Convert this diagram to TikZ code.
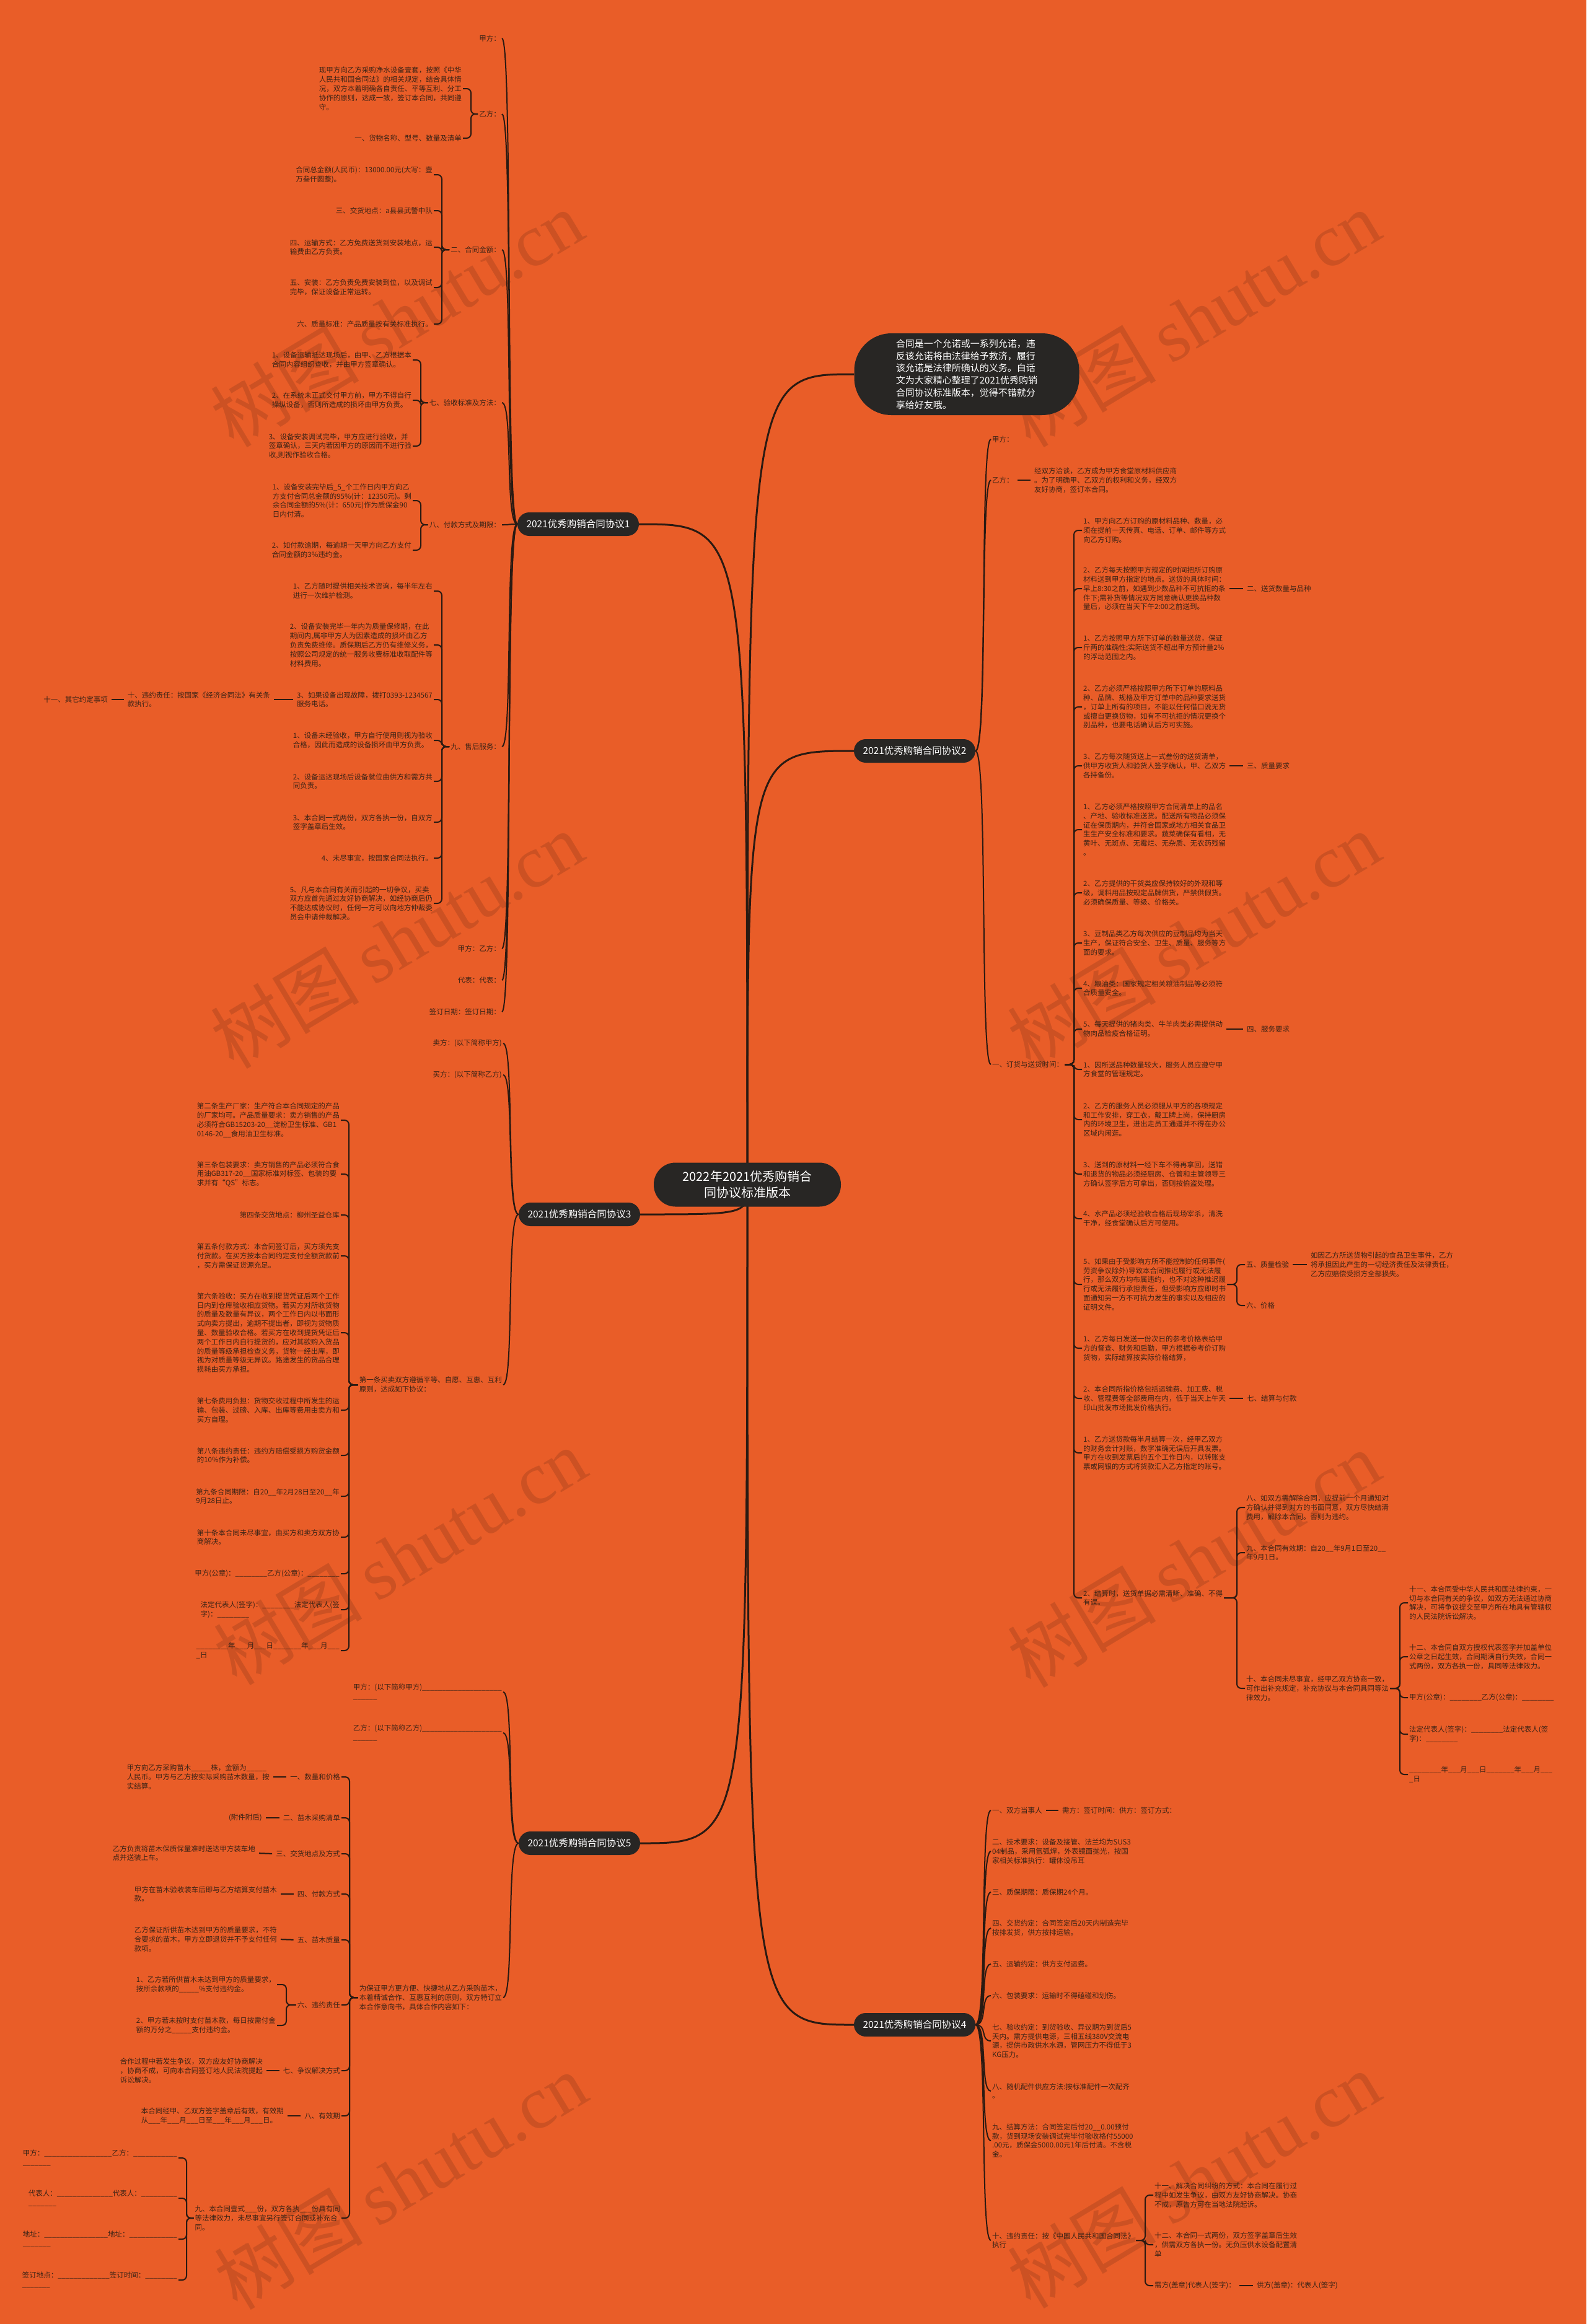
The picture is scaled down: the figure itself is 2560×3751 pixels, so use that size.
\documentclass[tikz,border=0pt]{standalone}
\usepackage{fontspec}
\setmainfont{Noto Sans CJK SC}
\newfontfamily\wmlatin{Liberation Serif}
\usetikzlibrary{calc}
\definecolor{bgc}{HTML}{E95D28}
\definecolor{dk}{HTML}{282624}
\definecolor{tc}{HTML}{3A2316}
\definecolor{lc}{HTML}{2A1A12}
\pgfdeclarelayer{back}
\pgfdeclarelayer{conn}
\pgfsetlayers{back,conn,main}
\tikzset{
 txt/.style={font=\fontsize{11.5}{14.8}\selectfont, text=tc, inner xsep=2pt, inner ysep=1pt, align=left},
 lf/.style={txt, anchor=east},
 rt/.style={txt, anchor=west},
 proto/.style={fill=dk, text=white, rounded corners=19pt, minimum height=38pt, minimum width=196pt, inner sep=0pt, font=\fontsize{15.5}{18}\selectfont},
 rootn/.style={fill=dk, text=white, rounded corners=35pt, minimum height=71pt, minimum width=302pt, align=center, font=\fontsize{20}{26.7}\selectfont},
 intro/.style={fill=dk, text=white, rounded corners=60pt, minimum height=132pt, minimum width=363pt, align=left, font=\fontsize{15}{19.8}\selectfont},
 rc/.style={draw=lc, line width=3pt},
 cv/.style={draw=lc, line width=2pt},
 br/.style={draw=lc, line width=2pt, rounded corners=7pt},
 ln/.style={draw=lc, line width=2pt, shorten <=4pt, shorten >=4pt},
 wm/.style={text=black, text opacity=0.12, rotate=31, font=\fontsize{120}{120}\selectfont, inner sep=0pt},
}
\newcommand\brl[3]{\coordinate (tmpB) at (#2,0); \foreach \c in {#3} \draw[br] (#1.west) -- (#1.west -| tmpB) |- (\c.east);}
\newcommand\brr[3]{\coordinate (tmpB) at (#2,0); \foreach \c in {#3} \draw[br] (#1.east) -- (#1.east -| tmpB) |- (\c.west);}
\begin{document}
\begin{tikzpicture}[x=1pt,y=-1pt]
\begin{pgfonlayer}{back}
\fill[bgc] (0,0) rectangle (2560,3751);
\foreach \wx/\wy [count=\i] in {640/514,1926/514,640/1517,1926/1517,645/2512,1926/2516,646/3520,1926/3518}
  \node[wm] (wm\i) at (\wx,\wy) {树图\hspace{24pt}{\wmlatin shutu.cn}};
\end{pgfonlayer}
\useasboundingbox (0,0) rectangle (2560,3751);

% ---------- root & intro ----------
\node[rootn] (root) at (1206,1912) {2022年2021优秀购销合\\同协议标准版本};
\node[intro] (intro) at (1560,604) {合同是一个允诺或一系列允诺，违\\反该允诺将由法律给予救济，履行\\该允诺是法律所确认的义务。白话\\文为大家精心整理了2021优秀购销\\合同协议标准版本，觉得不错就分\\享给好友哦。};

% ---------- protocol 1 ----------
\node[proto] (p1) at (933,846) {2021优秀购销合同协议1};
\node[lf] (p1a) at (810,62) {甲方：};
\node[lf] (p1b) at (810,184) {乙方：};
\node[lf] (p1b1) at (747,143) {现甲方向乙方采购净水设备壹套，按照《中华\\人民共和国合同法》的相关规定，结合具体情\\况，双方本着明确各自责任、平等互利、分工\\协作的原则，达成一致，签订本合同，共同遵\\守。};
\node[lf] (p1b2) at (747,223) {一、货物名称、型号、数量及清单};
\node[lf] (p1c) at (810,403) {二、合同金额：};
\node[lf] (p1c1) at (700,282) {合同总金额(人民币)：13000.00元(大写：壹\\万叁仟圆整)。};
\node[lf] (p1c2) at (700,340) {三、交货地点：a县县武警中队};
\node[lf] (p1c3) at (700,399) {四、运输方式：乙方免费送货到安装地点，运\\输费由乙方负责。};
\node[lf] (p1c4) at (700,464) {五、安装：乙方负责免费安装到位，以及调试\\完毕，保证设备正常运转。};
\node[lf] (p1c5) at (700,523) {六、质量标准：产品质量按有关标准执行。};
\node[lf] (p1d) at (810,650) {七、验收标准及方法：};
\node[lf] (p1d1) at (666,581) {1、设备运输抵达现场后，由甲、乙方根据本\\合同内容组织查收，并由甲方签章确认。};
\node[lf] (p1d2) at (666,646) {2、在系统未正式交付甲方前，甲方不得自行\\操纵设备，否则所造成的损坏由甲方负责。};
\node[lf] (p1d3) at (666,720) {3、设备安装调试完毕，甲方应进行验收，并\\签章确认，三天内若因甲方的原因而不进行验\\收,则视作验收合格。};
\node[lf] (p1e) at (810,847) {八、付款方式及期限：};
\node[lf] (p1e1) at (666,808) {1、设备安装完毕后\_5\_个工作日内甲方向乙\\方支付合同总金额的95\%(计：12350元)。剩\\余合同金额的5\%(计：650元)作为质保金90\\日内付清。};
\node[lf] (p1e2) at (666,888) {2、如付款逾期，每逾期一天甲方向乙方支付\\合同金额的3\%违约金。};
\node[lf] (p1f) at (810,1205) {九、售后服务：};
\node[lf] (p1f1) at (700,954) {1、乙方随时提供相关技术咨询，每半年左右\\进行一次维护检测。};
\node[lf] (p1f2) at (700,1041) {2、设备安装完毕一年内为质量保修期，在此\\期间内,属非甲方人为因素造成的损坏由乙方\\负责免费维修。质保期后乙方仍有维修义务，\\按照公司规定的统一服务收费标准收取配件等\\材料费用。};
\node[lf] (p1f3) at (700,1129) {3、如果设备出现故障，拨打0393-1234567\\服务电话。};
\node[lf] (p1f4) at (700,1195) {1、设备未经验收，甲方自行使用则视为验收\\合格，因此而造成的设备损坏由甲方负责。};
\node[lf] (p1f5) at (700,1261) {2、设备运达现场后设备就位由供方和需方共\\同负责。};
\node[lf] (p1f6) at (700,1327) {3、本合同一式两份，双方各执一份，自双方\\签字盖章后生效。};
\node[lf] (p1f7) at (700,1385) {4、未尽事宜，按国家合同法执行。};
\node[lf] (p1f8) at (700,1458) {5、凡与本合同有关而引起的一切争议，买卖\\双方应首先通过友好协商解决，如经协商后仍\\不能达成协议时，任何一方可以向地方仲裁委\\员会申请仲裁解决。};
\node[lf] (p1g) at (438,1129) {十、违约责任：按国家《经济合同法》有关条\\款执行。};
\node[lf] (p1h) at (176,1129) {十一、其它约定事项};
\node[lf] (p1i) at (810,1531) {甲方：乙方：};
\node[lf] (p1j) at (810,1582) {代表：代表：};
\node[lf] (p1k) at (810,1633) {签订日期：签订日期：};

% ---------- protocol 3 ----------
\node[proto] (p3) at (935,1960) {2021优秀购销合同协议3};
\node[lf] (p3a) at (812,1684) {卖方：(以下简称甲方)};
\node[lf] (p3b) at (812,1735) {买方：(以下简称乙方)};
\node[lf] (p3c) at (812,2235) {第一条买卖双方遵循平等、自愿、互惠、互利\\原则，达成如下协议：};
\node[lf] (p3c1) at (550,1808) {第二条生产厂家：生产符合本合同规定的产品\\的厂家均可。产品质量要求：卖方销售的产品\\必须符合GB15203-20\_\_淀粉卫生标准、GB1\\0146-20\_\_食用油卫生标准。};
\node[lf] (p3c2) at (550,1895) {第三条包装要求：卖方销售的产品必须符合食\\用油GB317-20\_\_国家标准对标签、包装的要\\求并有“QS”标志。};
\node[lf] (p3c3) at (550,1961) {第四条交货地点：柳州圣益仓库};
\node[lf] (p3c4) at (550,2027) {第五条付款方式：本合同签订后，买方须先支\\付货款。在买方按本合同约定支付全额货款前\\，买方需保证货源充足。};
\node[lf] (p3c5) at (550,2151) {第六条验收：买方在收到提货凭证后两个工作\\日内到仓库验收相应货物。若买方对所收货物\\的质量及数量有异议，两个工作日内以书面形\\式向卖方提出，逾期不提出者，即视为货物质\\量、数量验收合格。若买方在收到提货凭证后\\两个工作日内自行提货的，应对其欲购入货品\\的质量等级承担检查义务，货物一经出库，即\\视为对质量等级无异议。路途发生的货品合理\\损耗由买方承担。};
\node[lf] (p3c6) at (550,2276) {第七条费用负担：货物交收过程中所发生的运\\输、包装、过磅、入库、出库等费用由卖方和\\买方自理。};
\node[lf] (p3c7) at (550,2349) {第八条违约责任：违约方赔偿受损方购货金额\\的10\%作为补偿。};
\node[lf] (p3c8) at (550,2415) {第九条合同期限：自20\_\_年2月28日至20\_\_年\\9月28日止。};
\node[lf] (p3c9) at (550,2481) {第十条本合同未尽事宜，由买方和卖方双方协\\商解决。};
\node[lf] (p3c10) at (550,2540) {甲方(公章)：\_\_\_\_\_\_\_\_乙方(公章)：\_\_\_\_\_\_\_\_};
\node[lf] (p3c11) at (550,2598) {法定代表人(签字)：\_\_\_\_\_\_\_\_法定代表人(签\\字)：\_\_\_\_\_\_\_\_};
\node[lf] (p3c12) at (550,2664) {\_\_\_\_\_\_\_\_年\_\_\_月\_\_\_日\_\_\_\_\_\_\_年\_\_\_月\_\_\_\\\_日};

% ---------- protocol 5 ----------
\node[proto] (p5) at (935,2975) {2021优秀购销合同协议5};
\node[lf] (p5a) at (812,2731) {甲方：(以下简称甲方)\_\_\_\_\_\_\_\_\_\_\_\_\_\_\_\_\_\_\_\_\\\_\_\_\_\_\_};
\node[lf] (p5b) at (812,2797) {乙方：(以下简称乙方)\_\_\_\_\_\_\_\_\_\_\_\_\_\_\_\_\_\_\_\_\\\_\_\_\_\_\_};
\node[lf] (p5c) at (812,3224) {为保证甲方更方便、快捷地从乙方采购苗木，\\本着精诚合作、互惠互利的原则，双方特订立\\本合作意向书，具体合作内容如下：};
\node[lf] (p5c1) at (551,2868) {一、数量和价格};
\node[lf] (p5c1a) at (437,2868) {甲方向乙方采购苗木\_\_\_\_\_株，金额为\_\_\_\_\_\\人民币。甲方与乙方按实际采购苗木数量，按\\实结算。};
\node[lf] (p5c2) at (551,2934) {二、苗木采购清单};
\node[lf] (p5c2a) at (425,2934) {(附件附后)};
\node[lf] (p5c3) at (551,2992) {三、交货地点及方式};
\node[lf] (p5c3a) at (414,2991) {乙方负责将苗木保质保量准时送达甲方装车地\\点并送装上车。};
\node[lf] (p5c4) at (551,3057) {四、付款方式};
\node[lf] (p5c4a) at (449,3057) {甲方在苗木验收装车后即与乙方结算支付苗木\\款。};
\node[lf] (p5c5) at (551,3131) {五、苗木质量};
\node[lf] (p5c5a) at (449,3130) {乙方保证所供苗木达到甲方的质量要求，不符\\合要求的苗木，甲方立即退货并不予支付任何\\款项。};
\node[lf] (p5c6) at (551,3236) {六、违约责任};
\node[lf] (p5c6a) at (447,3203) {1、乙方若所供苗木未达到甲方的质量要求，\\按所余款项的\_\_\_\_\_\%支付违约金。};
\node[lf] (p5c6b) at (447,3269) {2、甲方若未按时支付苗木款，每日按需付金\\额的万分之\_\_\_\_\_支付违约金。};
\node[lf] (p5c7) at (551,3342) {七、争议解决方式};
\node[lf] (p5c7a) at (426,3342) {合作过程中若发生争议，双方应友好协商解决\\，协商不成，可向本合同签订地人民法院提起\\诉讼解决。};
\node[lf] (p5c8) at (551,3415) {八、有效期};
\node[lf] (p5c8a) at (460,3415) {本合同经甲、乙双方签字盖章后有效，有效期\\从\_\_\_年\_\_\_月\_\_\_日至\_\_\_年\_\_\_月\_\_\_日。};
\node[lf] (p5c9) at (551,3580) {九、本合同壹式\_\_\_份，双方各执\_\_\_份具有同\\等法律效力，未尽事宜另行签订合同或补充合\\同。};
\node[lf] (p5c9a) at (288,3483) {甲方：\_\_\_\_\_\_\_\_\_\_\_\_\_\_\_\_\_乙方：\_\_\_\_\_\_\_\_\_\_\_\\\_\_\_\_\_\_\_};
\node[lf] (p5c9b) at (288,3548) {代表人：\_\_\_\_\_\_\_\_\_\_\_\_\_\_代表人：\_\_\_\_\_\_\_\_\_\\\_\_\_\_\_\_\_};
\node[lf] (p5c9c) at (288,3614) {地址：\_\_\_\_\_\_\_\_\_\_\_\_\_\_\_\_地址：\_\_\_\_\_\_\_\_\_\_\_\_\\\_\_\_\_\_\_\_};
\node[lf] (p5c9d) at (288,3680) {签订地点：\_\_\_\_\_\_\_\_\_\_\_\_\_签订时间：\_\_\_\_\_\_\_\_\\\_\_\_\_\_\_\_};

% ---------- protocol 2 ----------
\node[proto] (p2) at (1476,1212) {2021优秀购销合同协议2};
\node[rt] (p2a) at (1599,709) {甲方：};
\node[rt] (p2b) at (1599,775) {乙方：};
\node[rt] (p2b1) at (1667,775) {经双方洽谈，乙方成为甲方食堂原材料供应商\\。为了明确甲、乙双方的权利和义务，经双方\\友好协商，签订本合同。};
\node[rt] (p2c) at (1599,1718) {一、订货与送货时间：};
\node[rt] (a1) at (1746,856) {1、甲方向乙方订购的原材料品种、数量，必\\须在提前一天传真、电话、订单、邮件等方式\\向乙方订购。};
\node[rt] (a2) at (1746,950) {2、乙方每天按照甲方规定的时间把所订购原\\材料送到甲方指定的地点。送货的具体时间：\\早上8:30之前，如遇到少数品种不可抗拒的条\\件下;需补货等情况双方同意确认更换品种数\\量后，必须在当天下午2:00之前送到。};
\node[rt] (a3) at (1746,1045) {1、乙方按照甲方所下订单的数量送货，保证\\斤两的准确性;实际送货不超出甲方预计量2\%\\的浮动范围之内。};
\node[rt] (a4) at (1746,1141) {2、乙方必须严格按照甲方所下订单的原料品\\种、品牌、规格及甲方订单中的品种要求送货\\，订单上所有的项目，不能以任何借口说无货\\或擅自更换货物，如有不可抗拒的情况更换个\\别品种，也要电话确认后方可实施。};
\node[rt] (a5) at (1746,1236) {3、乙方每次随货送上一式叁份的送货清单，\\供甲方收货人和验货人签字确认，甲、乙双方\\各持备份。};
\node[rt] (a6) at (1746,1339) {1、乙方必须严格按照甲方合同清单上的品名\\、产地、验收标准送货。配送所有物品必须保\\证在保质期内，并符合国家或地方相关食品卫\\生生产安全标准和要求。蔬菜确保有看相，无\\黄叶、无斑点、无霉烂、无杂质、无农药残留\\。};
\node[rt] (a7) at (1746,1441) {2、乙方提供的干货类应保持较好的外观和等\\级，调料用品按规定品牌供货，严禁供假货。\\必须确保质量、等级、价格关。};
\node[rt] (a8) at (1746,1522) {3、豆制品类乙方每次供应的豆制品均为当天\\生产，保证符合安全、卫生、质量、服务等方\\面的要求。};
\node[rt] (a9) at (1746,1595) {4、粮油类：国家规定相关粮油制品等必须符\\合质量安全。};
\node[rt] (a10) at (1746,1661) {5、每天提供的猪肉类、牛羊肉类必需提供动\\物肉品检疫合格证明。};
\node[rt] (a11) at (1746,1726) {1、因所送品种数量较大，服务人员应遵守甲\\方食堂的管理规定。};
\node[rt] (a12) at (1746,1807) {2、乙方的服务人员必须服从甲方的各项规定\\和工作安排，穿工衣，戴工牌上岗，保持厨房\\内的环境卫生，进出走员工通道并不得在办公\\区域内闲逛。};
\node[rt] (a13) at (1746,1895) {3、送到的原材料一经下车不得再拿回，送错\\和退货的物品必须经厨房、仓管和主管领导三\\方确认签字后方可拿出，否则按偷盗处理。};
\node[rt] (a14) at (1746,1967) {4、水产品必须经验收合格后现场宰杀，清洗\\干净，经食堂确认后方可使用。};
\node[rt] (a15) at (1746,2073) {5、如果由于受影响方所不能控制的任何事件(\\劳资争议除外)导致本合同推迟履行或无法履\\行，那么双方均布属违约，也不对这种推迟履\\行或无法履行承担责任，但受影响方应即时书\\面通知另一方不可抗力发生的事实以及相应的\\证明文件。};
\node[rt] (a16) at (1746,2176) {1、乙方每日发送一份次日的参考价格表给甲\\方的督查、财务和后勤，甲方根据参考价订购\\货物，实际结算按实际价格结算，};
\node[rt] (a17) at (1746,2257) {2、本合同所指价格包括运输费、加工费、税\\收、管理费等全部费用在内，低于当天上午天\\印山批发市场批发价格执行。};
\node[rt] (a18) at (1746,2345) {1、乙方送货款每半月结算一次，经甲乙双方\\的财务会计对账，数字准确无误后开具发票。\\甲方在收到发票后的五个工作日内，以转账支\\票或网银的方式将货款汇入乙方指定的账号。};
\node[rt] (a19) at (1746,2579) {2、结算时，送货单据必需清晰、准确、不得\\有误。};
\node[rt] (x2) at (2010,950) {二、送货数量与品种};
\node[rt] (x5) at (2010,1236) {三、质量要求};
\node[rt] (x10) at (2010,1661) {四、服务要求};
\node[rt] (q1) at (2009,2041) {五、质量检验};
\node[rt] (q2) at (2009,2107) {六、价格};
\node[rt] (q1a) at (2113,2041) {如因乙方所送货物引起的食品卫生事件，乙方\\将承担因此产生的一切经济责任及法律责任，\\乙方应赔偿受损方全部损失。};
\node[rt] (x17) at (2010,2257) {七、结算与付款};
\node[rt] (r1) at (2009,2433) {八、如双方需解除合同，应提前一个月通知对\\方确认并得到对方的书面同意，双方尽快结清\\费用，解除本合同。否则为违约。};
\node[rt] (r2) at (2009,2506) {九、本合同有效期：自20\_\_年9月1日至20\_\_\\年9月1日。};
\node[rt] (r3) at (2009,2725) {十、本合同未尽事宜，经甲乙双方协商一致，\\可作出补充规定，补充协议与本合同具同等法\\律效力。};
\node[rt] (s1) at (2272,2587) {十一、本合同受中华人民共和国法律约束，一\\切与本合同有关的争议，如双方无法通过协商\\解决，可将争议提交至甲方所在地具有管辖权\\的人民法院诉讼解决。};
\node[rt] (s2) at (2272,2674) {十二、本合同自双方授权代表签字并加盖单位\\公章之日起生效，合同期满自行失效，合同一\\式两份，双方各执一份，具同等法律效力。};
\node[rt] (s3) at (2272,2740) {甲方(公章)：\_\_\_\_\_\_\_\_乙方(公章)：\_\_\_\_\_\_\_\_};
\node[rt] (s4) at (2272,2799) {法定代表人(签字)：\_\_\_\_\_\_\_\_法定代表人(签\\字)：\_\_\_\_\_\_\_\_};
\node[rt] (s5) at (2272,2864) {\_\_\_\_\_\_\_\_年\_\_\_月\_\_\_日\_\_\_\_\_\_\_年\_\_\_月\_\_\_\\\_日};

% ---------- protocol 4 ----------
\node[proto] (p4) at (1476,3268) {2021优秀购销合同协议4};
\node[rt] (p4a) at (1599,2922) {一、双方当事人};
\node[rt] (p4a1) at (1712,2922) {需方：签订时间：供方：签订方式：};
\node[rt] (p4b) at (1599,2988) {二、技术要求：设备及接管、法兰均为SUS3\\04制品，采用氩弧焊，外表镜面抛光，按国\\家相关标准执行：罐体设吊耳};
\node[rt] (p4c) at (1599,3054) {三、质保期限：质保期24个月。};
\node[rt] (p4d) at (1599,3112) {四、交货约定：合同签定后20天内制造完毕\\按排发货，供方按排运输。};
\node[rt] (p4e) at (1599,3170) {五、运输约定：供方支付运费。};
\node[rt] (p4f) at (1599,3221) {六、包装要求：运输时不得磕碰和划伤。};
\node[rt] (p4g) at (1599,3294) {七、验收约定：到货验收、异议期为到货后5\\天内。需方提供电源，三相五线380V交流电\\源，提供市政供水水源，管网压力不得低于3\\KG压力。};
\node[rt] (p4h) at (1599,3375) {八、随机配件供应方法:按标准配件一次配齐\\。};
\node[rt] (p4i) at (1599,3455) {九、结算方法：合同签定后付20\_\_0.00预付\\款，货到现场安装调试完毕付验收格付55000\\.00元，质保金5000.00元1年后付清。不含税\\金。};
\node[rt] (p4j) at (1599,3616) {十、违约责任：按《中国人民共和国合同法》\\执行};
\node[rt] (t1) at (1861,3543) {十一、解决合同纠纷的方式：本合同在履行过\\程中如发生争议，由双方友好协商解决。协商\\不成，原告方可在当地法院起诉。};
\node[rt] (t2) at (1861,3623) {十二、本合同一式两份，双方签字盖章后生效\\，供需双方各执一份。无负压供水设备配置清\\单};
\node[rt] (t3) at (1861,3689) {需方(盖章)代表人(签字)：};
\node[rt] (t3a) at (2026,3689) {供方(盖章)：代表人(签字)};

% ---------- connectors ----------
\begin{pgfonlayer}{conn}
\foreach \c in {p1,p3,p5} \draw[rc] (root.center) .. controls (root.center |- \c.east) .. (\c.east);
\foreach \c in {intro,p2,p4} \draw[rc] (root.center) .. controls (root.center |- \c.west) .. (\c.west);
\foreach \c in {p1a,p1b,p1c,p1d,p1e,p1f,p1i,p1j,p1k} \draw[cv] (p1.west) .. controls +(-20,0) and +(18,0) .. (\c.east);
\foreach \c in {p3a,p3b,p3c} \draw[cv] (p3.west) .. controls +(-20,0) and +(18,0) .. (\c.east);
\foreach \c in {p5a,p5b,p5c} \draw[cv] (p5.west) .. controls +(-20,0) and +(18,0) .. (\c.east);
\foreach \c in {p2a,p2b,p2c} \draw[cv] (p2.east) .. controls +(20,0) and +(-18,0) .. (\c.west);
\foreach \c in {p4a,p4b,p4c,p4d,p4e,p4f,p4g,p4h,p4i,p4j} \draw[cv] (p4.east) .. controls +(20,0) and +(-18,0) .. (\c.west);
% brackets
\brl{p1b}{760}{p1b1,p1b2}
\brl{p1c}{713}{p1c1,p1c2,p1c3,p1c4,p1c5}
\brl{p1d}{679}{p1d1,p1d2,p1d3}
\brl{p1e}{679}{p1e1,p1e2}
\brl{p1f}{713}{p1f1,p1f2,p1f3,p1f4,p1f5,p1f6,p1f7,p1f8}
\brl{p3c}{563}{p3c1,p3c2,p3c3,p3c4,p3c5,p3c6,p3c7,p3c8,p3c9,p3c10,p3c11,p3c12}
\brl{p5c}{564}{p5c1,p5c2,p5c3,p5c4,p5c5,p5c6,p5c7,p5c8,p5c9}
\brl{p5c6}{462}{p5c6a,p5c6b}
\brl{p5c9}{301}{p5c9a,p5c9b,p5c9c,p5c9d}
\brr{p2c}{1733}{a1,a2,a3,a4,a5,a6,a7,a8,a9,a10,a11,a12,a13,a14,a15,a16,a17,a18,a19}
\brr{a15}{1996}{q1,q2}
\brr{a19}{1996}{r1,r2,r3}
\brr{r3}{2259}{s1,s2,s3,s4,s5}
\brr{p4j}{1848}{t1,t2,t3}
% straight links
\draw[ln] (p1f3.west) -- (p1g.east);
\draw[ln] (p1g.west) -- (p1h.east);
\draw[ln] (p5c1.west) -- (p5c1a.east);
\draw[ln] (p5c2.west) -- (p5c2a.east);
\draw[ln] (p5c3.west) -- (p5c3a.east);
\draw[ln] (p5c4.west) -- (p5c4a.east);
\draw[ln] (p5c5.west) -- (p5c5a.east);
\draw[ln] (p5c7.west) -- (p5c7a.east);
\draw[ln] (p5c8.west) -- (p5c8a.east);
\draw[ln] (p2b.east) -- (p2b1.west);
\draw[ln] (a2.east) -- (x2.west);
\draw[ln] (a5.east) -- (x5.west);
\draw[ln] (a10.east) -- (x10.west);
\draw[ln] (a17.east) -- (x17.west);
\draw[ln] (q1.east) -- (q1a.west);
\draw[ln] (p4a.east) -- (p4a1.west);
\draw[ln] (t3.east) -- (t3a.west);
\end{pgfonlayer}
\end{tikzpicture}
\end{document}
